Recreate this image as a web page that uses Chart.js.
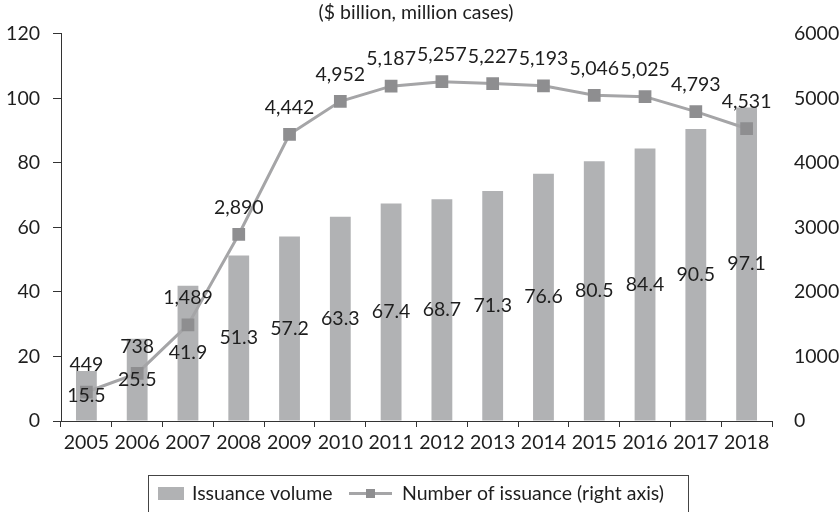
<!DOCTYPE html>
<html>
<head>
<meta charset="utf-8">
<script src="https://cdn.jsdelivr.net/npm/chart.js@4/dist/chart.umd.min.js"></script>
<style>
  html, body { margin: 0; padding: 0; background: #ffffff; }
  #wrap { position: relative; width: 839px; height: 512px; }
</style>
</head>
<body>
<div id="wrap"><canvas id="c" width="839" height="512"></canvas></div>
<script>
const years = ["2005","2006","2007","2008","2009","2010","2011","2012","2013","2014","2015","2016","2017","2018"];
const issuanceVolume = [15.5, 25.5, 41.9, 51.3, 57.2, 63.3, 67.4, 68.7, 71.3, 76.6, 80.5, 84.4, 90.5, 97.1];
const issuanceCount = [449, 738, 1489, 2890, 4442, 4952, 5187, 5257, 5227, 5193, 5046, 5025, 4793, 4531];
const leftTicks = [0, 20, 40, 60, 80, 100, 120];
const rightTicks = [0, 1000, 2000, 3000, 4000, 5000, 6000];
const titleText = "($ billion, million cases)";
const barLabel = "Issuance volume";
const lineLabel = "Number of issuance (right axis)";

const FONT = "Lato, 'Open Sans', sans-serif";
const FS = 19.5;
const TEXT = "#1e1e1e";
const BAR = "#b1b2b4";
const LINE = "#a5a5a7";
const MARK = "#8e8e90";

const labelsPlugin = {
  id: 'labelsPlugin',
  afterDatasetsDraw(chart) {
    const ctx = chart.ctx;
    ctx.save();
    ctx.font = FS + "px " + FONT;
    ctx.fillStyle = TEXT;
    ctx.textAlign = 'center';
    ctx.textBaseline = 'middle';
    // bar labels (centered in bar)
    const bm = chart.getDatasetMeta(0);
    bm.data.forEach((el, i) => {
      const y = (el.y + el.base) / 2;
      ctx.fillText(String(issuanceVolume[i]), el.x, y);
    });
    // line labels (above point)
    const lm = chart.getDatasetMeta(1);
    lm.data.forEach((el, i) => {
      ctx.fillText(issuanceCount[i].toLocaleString('en-US'), el.x, el.y - 27);
    });
    // title
    ctx.fillText(titleText, 416, 13);
    // legend
    ctx.strokeStyle = "#444444";
    ctx.lineWidth = 1;
    ctx.strokeRect(148.5, 475.5, 540, 60);
    ctx.fillStyle = BAR;
    ctx.fillRect(158, 487, 26, 13);
    ctx.fillStyle = TEXT;
    ctx.textAlign = 'left';
    ctx.fillText(barLabel, 192, 494);
    ctx.strokeStyle = LINE;
    ctx.lineWidth = 3;
    ctx.beginPath();
    ctx.moveTo(349, 493.5);
    ctx.lineTo(392, 493.5);
    ctx.stroke();
    ctx.fillStyle = MARK;
    ctx.fillRect(366, 489, 9, 9);
    ctx.fillStyle = TEXT;
    ctx.fillText(lineLabel, 402, 494);
    ctx.restore();
  }
};

new Chart(document.getElementById('c'), {
  type: 'bar',
  data: {
    labels: years,
    datasets: [
      {
        type: 'bar',
        label: barLabel,
        data: issuanceVolume,
        backgroundColor: BAR,
        borderWidth: 0,
        barPercentage: 0.41,
        categoryPercentage: 1.0,
        yAxisID: 'y',
        order: 2
      },
      {
        type: 'line',
        label: lineLabel,
        data: issuanceCount,
        borderColor: LINE,
        borderWidth: 3,
        pointStyle: 'rect',
        pointRadius: 9,
        pointBorderWidth: 0,
        pointBackgroundColor: MARK,
        pointBorderColor: MARK,
        tension: 0,
        yAxisID: 'y2',
        order: 1
      }
    ]
  },
  options: {
    responsive: false,
    animation: false,
    devicePixelRatio: 1,
    layout: { padding: { top: 33, left: 0, right: 0, bottom: 0 } },
    plugins: {
      legend: { display: false },
      tooltip: { enabled: false },
      title: { display: false }
    },
    scales: {
      x: {
        offset: true,
        grid: { display: true, drawOnChartArea: false, drawTicks: true, tickLength: 6, color: '#333333', offset: true },
        border: { display: true, color: '#333333', width: 1 },
        ticks: { color: TEXT, font: { family: FONT, size: FS }, padding: 4, maxRotation: 0, autoSkip: false },
        afterFit(s) { s.height = 91; }
      },
      y: {
        position: 'left',
        min: 0, max: 120,
        afterBuildTicks(s) { s.ticks = leftTicks.map(v => ({ value: v })); },
        grid: { display: true, drawOnChartArea: false, drawTicks: true, tickLength: 8, color: '#333333' },
        border: { display: true, color: '#333333', width: 1 },
        ticks: { color: TEXT, font: { family: FONT, size: FS }, padding: 13 },
        afterFit(s) { s.width = 61; }
      },
      y2: {
        position: 'right',
        min: 0, max: 6000,
        afterBuildTicks(s) { s.ticks = rightTicks.map(v => ({ value: v })); },
        grid: { display: false, drawTicks: false },
        border: { display: false },
        ticks: { color: TEXT, font: { family: FONT, size: FS }, padding: 22, callback: v => String(v) },
        afterFit(s) { s.width = 67; }
      }
    }
  },
  plugins: [labelsPlugin]
});
</script>
</body>
</html>
